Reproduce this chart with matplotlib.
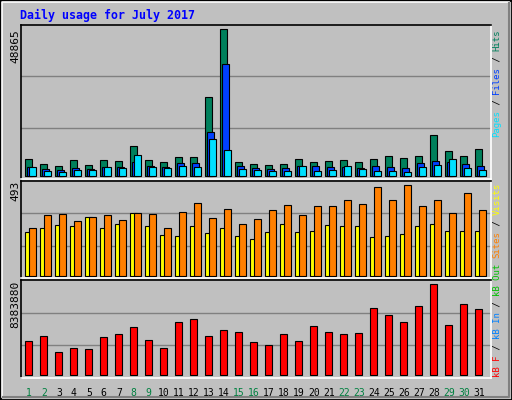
import matplotlib
matplotlib.use("Agg")
import matplotlib.pyplot as plt
from matplotlib.patches import Rectangle

days = list(range(1, 32))
weekend = [1, 2, 8, 9, 15, 16, 22, 23, 29, 30]
hits = [5749, 4090, 3427, 5417, 3759, 5417, 5085, 10060, 5417, 4754, 6412, 6412, 26311, 48865, 4754,
        4090, 3759, 4090, 5749, 4754, 5085, 5417, 4754, 5749, 6744, 6080, 6744, 13708, 8402, 6744, 9065]
files = [3095, 2432, 2100, 2764, 2432, 3095, 3095, 4754, 3427, 3095, 4422, 4422, 14703, 37255, 3427,
         2764, 2432, 2764, 3427, 3427, 3095, 3095, 2764, 3427, 3095, 2764, 4422, 5085, 4754, 4090, 3427]
pages = [3095, 1769, 1437, 2100, 2100, 3095, 2764, 7075, 3095, 2764, 3427, 3095, 12382, 8733, 2432,
         2100, 1769, 1769, 3427, 1769, 2100, 3427, 2432, 1769, 1769, 1437, 3095, 3759, 5749, 2764, 2100]
visits = [237, 263, 279, 269, 322, 258, 285, 343, 274, 221, 215, 274, 231, 258, 215, 199, 237, 285,
          237, 242, 279, 269, 274, 210, 215, 226, 274, 285, 247, 247, 242]
sites = [258, 333, 338, 301, 322, 333, 306, 343, 338, 258, 349, 397, 317, 365, 285, 311, 360, 386,
         333, 381, 381, 413, 392, 482, 413, 493, 381, 413, 343, 450, 360]
kbytes = [3151600, 3610600, 2141900, 2509000, 2417200, 3518800, 3794200, 4436700, 3243400, 2509000,
          4895700, 5171100, 3610600, 4161300, 3977700, 3059800, 2784400, 3794200, 3151600, 4528500,
          3977700, 3794200, 3885900, 6180800, 5538200, 4895700, 6364400, 8383880, 4620300, 6548000, 6089000]

W, H = 512, 400
fig = plt.figure(figsize=(W/100, H/100), dpi=100, facecolor="#c0c0c0")
mono = "DejaVu Sans Mono"

# frame
fig.patches.append(Rectangle((0, 0), 1, 1, transform=fig.transFigure, fill=False, ec="black", lw=2))
fig.add_artist(plt.Line2D([2/W, 2/W, 1-3/W], [3/H, 1-2/H, 1-2/H], transform=fig.transFigure, color="white", lw=1.2))
fig.add_artist(plt.Line2D([3/W, 1-3/W, 1-3/W], [3/H, 3/H, 1-3/H], transform=fig.transFigure, color="#808080", lw=1.5))

left, right = 20.7, 490.7
def mkax(top, bot):
    ax = fig.add_axes([left/W, 1-bot/H, (right-left)/W, (bot-top)/H])
    ax.set_facecolor("#c0c0c0")
    ax.set_xlim(0, right-left)
    for s in ("top", "left"):
        ax.spines[s].set_color("black")
    for s in ("bottom", "right"):
        ax.spines[s].set_color("white")
    for s in ax.spines.values():
        s.set_linewidth(1.2)
    ax.set_xticks([]); ax.set_yticks([])
    for f in (1/3, 2/3):
        ax.plot([0, 1], [f, f], transform=ax.transAxes, color="#808080", lw=1, zorder=0)
    return ax

xs = [4.6 + 15*(d-1) for d in days]
bw = 7
kw = dict(align="edge", edgecolor="black", linewidth=0.8, zorder=2)

ax1 = mkax(25, 179)
ax1.set_ylim(-850, 50302)
ax1.bar(xs, hits, bw, color="#00805c", **kw)
ax1.bar([x+2 for x in xs], files, bw, color="#0040ff", **kw)
ax1.bar([x+4 for x in xs], pages, bw, color="#00e0ff", **kw)

ax2 = mkax(181, 278)
ax2.set_ylim(-11, 516)
ax2.bar(xs, visits, bw, color="#ffff00", **kw)
ax2.bar([x+4 for x in xs], sites, bw, color="#ff8000", **kw)

ax3 = mkax(280, 378)
ax3.set_ylim(-290000, 8782000)
ax3.bar(xs, kbytes, bw, color="#ff0000", **kw)

for d, x in zip(days, xs):
    ax3.text(x+3.5, -0.1, str(d), transform=ax3.get_xaxis_transform(), ha="center", va="top",
             fontsize=7, family=mono, color="#008040" if d in weekend else "black")

fig.text(20/W, 1-15/H, "Daily usage for July 2017", color="#0000ff", fontsize=8.4,
         family=mono, weight="bold", va="center", ha="left")
for lab, ytop in (("48865", 29), ("493", 181), ("8383880", 281)):
    fig.text(15/W, 1-ytop/H, lab, rotation=90, fontsize=8, family=mono, ha="center", va="top")

def vlabel(pieces, ybottom, x=497):
    y = ybottom
    for txt, col in pieces:
        fig.text(x/W, 1-y/H, txt, rotation=90, fontsize=6.5, family=mono, color=col,
                 ha="center", va="bottom")
        y -= 5.4*len(txt)

vlabel([("Pages", "#00e0ff"), (" / ", "black"), ("Files", "#0040ff"), (" / ", "black"), ("Hits", "#00805c")], 137)
vlabel([("Sites", "#ff8000"), (" / ", "black"), ("Visits", "#ffff00")], 258)
vlabel([("kB F", "#ff0000"), (" / ", "black"), ("kB In", "#0080ff"), (" / ", "black"), ("kB Out", "#00c000")], 377)

fig.savefig("out.png", dpi=100, facecolor=fig.get_facecolor())
